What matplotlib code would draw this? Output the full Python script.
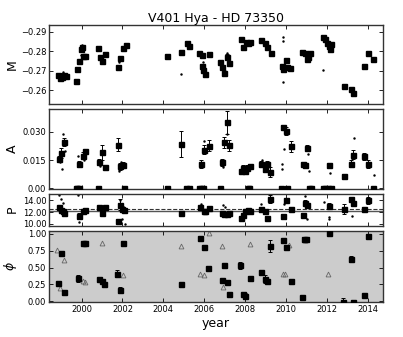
import matplotlib
matplotlib.use("Agg")
import matplotlib.pyplot as plt
import numpy as np

# Mean magnitude M (seasonal fits)
m_year = [1998.85, 1998.95, 1999.05, 1999.15, 1999.25, 1999.73, 1999.80, 1999.88, 1999.98, 2000.04,
          2000.09, 2000.17, 2000.82, 2000.90, 2001.02, 2001.15, 2001.80, 2001.88, 2002.04, 2002.16,
          2004.19, 2004.86, 2005.14, 2005.25, 2005.76, 2005.87, 2005.90, 2005.95, 2006.04, 2006.25,
          2006.77, 2006.88, 2006.98, 2007.10, 2007.21, 2007.80, 2007.91, 2008.03, 2008.12, 2008.24,
          2008.76, 2008.97, 2009.08, 2009.25, 2009.78, 2009.86, 2009.98, 2010.06, 2010.19, 2010.79,
          2010.92, 2011.00, 2011.08, 2011.17, 2011.79, 2011.90, 2012.01, 2012.11, 2012.19, 2012.15,
          2012.83, 2013.16, 2013.26, 2013.81, 2014.02, 2014.23]
m_val = [-0.2677, -0.2665, -0.2670, -0.2680, -0.2672, -0.2646, -0.2711, -0.2748, -0.2812, -0.2822,
         -0.2778, -0.2775, -0.2817, -0.2773, -0.2748, -0.2787, -0.2719, -0.2766, -0.2815, -0.2834,
         -0.2775, -0.2798, -0.2841, -0.2829, -0.2792, -0.2783, -0.2727, -0.2705, -0.2685, -0.2787,
         -0.2744, -0.2719, -0.2688, -0.2773, -0.2739, -0.2861, -0.2824, -0.2846, -0.2841, -0.2846,
         -0.2858, -0.2841, -0.2824, -0.2792, -0.2727, -0.2707, -0.2756, -0.2719, -0.2716, -0.2795,
         -0.2790, -0.2761, -0.2770, -0.2790, -0.2875, -0.2863, -0.2843, -0.2829, -0.2838, -0.2812,
         -0.2622, -0.2609, -0.2587, -0.2727, -0.2790, -0.2761]
m_err = [0.0004, 0.0004, 0.0006, 0.0004, 0.0004, 0.0005, 0.0004, 0.0004, 0.0005, 0.0004,
         0.0004, 0.0004, 0.0004, 0.0004, 0.0004, 0.0004, 0.0004, 0.0007, 0.0004, 0.0004,
         0.0008, 0.0005, 0.0004, 0.0004, 0.0004, 0.0004, 0.0004, 0.0004, 0.0004, 0.0004,
         0.0004, 0.0004, 0.0004, 0.0012, 0.0006, 0.0004, 0.0004, 0.0004, 0.0004, 0.0004,
         0.0004, 0.0004, 0.0004, 0.0004, 0.0004, 0.0004, 0.0004, 0.0004, 0.0004, 0.0004,
         0.0004, 0.0006, 0.0004, 0.0004, 0.0004, 0.0004, 0.0004, 0.0008, 0.0004, 0.0004,
         0.0004, 0.0004, 0.0005, 0.0004, 0.0004, 0.0004]
m_dot_year = [1998.9, 1999.0, 1999.1, 1999.2, 1999.75, 1999.95, 2000.0, 2001.0, 2001.82, 2004.86,
              2005.95, 2006.0, 2006.05, 2007.0, 2007.12, 2007.95, 2009.12, 2009.86, 2009.86, 2009.86,
              2011.02, 2011.8, 2012.2, 2013.27]
m_dot_val = [-0.2660, -0.2684, -0.2695, -0.2662, -0.2655, -0.2780, -0.2830, -0.2760, -0.2745, -0.2685,
             -0.2745, -0.2720, -0.2710, -0.2700, -0.2790, -0.2815, -0.2815, -0.2875, -0.2855, -0.2645,
             -0.2750, -0.2705, -0.2800, -0.2600]

# Amplitude A
a_year = [1998.90, 1999.00, 1999.16, 1999.88, 2000.09, 2000.17, 2000.87, 2001.00, 2001.15, 2001.80,
          2001.88, 2002.04, 2004.86, 2005.83, 2006.00, 2006.23, 2006.85, 2006.96, 2007.10, 2007.21,
          2007.78, 2007.91, 2007.99, 2008.10, 2008.24, 2008.76, 2008.97, 2009.08, 2009.21, 2009.83,
          2009.98, 2010.22, 2010.84, 2010.92, 2011.00, 2012.11, 2012.83, 2013.16, 2013.26, 2013.81,
          2014.02]
a_val = [0.0157, 0.0188, 0.0246, 0.0130, 0.0173, 0.0196, 0.0139, 0.0191, 0.0112, 0.0232,
         0.0116, 0.0125, 0.0237, 0.0128, 0.0205, 0.0227, 0.0137, 0.0244, 0.0351, 0.0228,
         0.0089, 0.0107, 0.0093, 0.0107, 0.0116, 0.0128, 0.0103, 0.0128, 0.0086, 0.0325,
         0.0304, 0.0223, 0.0130, 0.0121, 0.0214, 0.0121, 0.0062, 0.0130, 0.0178, 0.0169,
         0.0128]
a_err = [0.0015, 0.0025, 0.0020, 0.0015, 0.0020, 0.0015, 0.0015, 0.0040, 0.0010, 0.0035,
         0.0020, 0.0015, 0.0070, 0.0020, 0.0025, 0.0030, 0.0020, 0.0030, 0.0060, 0.0030,
         0.0010, 0.0015, 0.0015, 0.0015, 0.0015, 0.0015, 0.0015, 0.0015, 0.0025, 0.0015,
         0.0020, 0.0030, 0.0010, 0.0015, 0.0015, 0.0015, 0.0015, 0.0020, 0.0025, 0.0020,
         0.0020]
a_zero_year = [1999.72, 1999.80, 1999.90, 2000.80, 2002.10, 2004.19, 2005.12, 2005.25, 2005.76, 2005.86,
               2005.96, 2006.77, 2008.12, 2008.20, 2009.76, 2010.06, 2011.10, 2011.20, 2011.80, 2011.92,
               2012.05, 2012.20, 2014.25]
a_dot_year = [1998.95, 1999.05, 1999.1, 1999.18, 1999.85, 2000.12, 2000.9, 2001.85, 2001.95, 2006.0,
              2006.9, 2007.1, 2008.8, 2009.1, 2009.8, 2009.8, 2009.9, 2011.05, 2011.1, 2012.15,
              2013.3, 2014.3]
a_dot_val = [0.0140, 0.0100, 0.0290, 0.0200, 0.0170, 0.0150, 0.0120, 0.0090, 0.0140, 0.0250,
             0.0110, 0.0290, 0.0150, 0.0110, 0.0130, 0.0100, 0.0210, 0.0180, 0.0090, 0.0080,
             0.0270, 0.0070]

# Period P
p_year = [1998.90, 1999.00, 1999.08, 1999.16, 1999.88, 2000.05, 2000.17, 2000.87, 2000.99, 2001.15,
          2001.80, 2001.88, 2001.99, 2002.10, 2004.86, 2005.80, 2005.97, 2006.05, 2006.25, 2006.85,
          2006.96, 2007.10, 2007.21, 2007.78, 2007.91, 2008.00, 2008.12, 2008.24, 2008.76, 2008.97,
          2009.08, 2009.20, 2009.85, 2009.98, 2010.22, 2010.84, 2010.92, 2011.00, 2012.11, 2012.83,
          2013.16, 2013.26, 2013.81, 2014.02]
p_val = [12.8, 12.3, 12.1, 11.8, 11.4, 12.2, 12.4, 12.8, 11.8, 12.8,
         10.5, 13.3, 12.6, 12.4, 11.8, 12.8, 12.2, 12.1, 12.7, 11.8,
         11.6, 11.7, 11.9, 11.05, 11.5, 12.2, 12.4, 12.2, 12.5, 12.2,
         11.05, 14.2, 11.35, 14.0, 12.5, 11.5, 13.6, 13.2, 13.0, 12.5,
         14.2, 13.6, 12.5, 14.0]
p_err = [0.3, 0.3, 0.3, 0.3, 0.4, 0.3, 0.3, 0.3, 0.3, 0.3,
         0.3, 1.0, 0.4, 0.3, 0.3, 0.3, 0.3, 0.3, 0.3, 0.3,
         0.3, 0.3, 0.3, 0.3, 0.3, 0.3, 0.3, 0.3, 0.3, 0.3,
         0.3, 0.7, 0.3, 0.3, 0.3, 0.3, 0.4, 0.3, 0.5, 0.9,
         0.3, 0.3, 0.3, 0.6]
p_dot_year = [1998.9, 1999.0, 1999.1, 1999.85, 1999.9, 2001.9, 2002.0, 2002.12, 2005.85, 2006.9,
              2007.0, 2008.75, 2009.9, 2010.9, 2011.0, 2011.85, 2012.1, 2012.12, 2013.2]
p_dot_val = [15.0, 14.3, 13.6, 15.0, 10.3, 14.0, 10.8, 9.9, 13.4, 13.2,
             12.9, 13.4, 13.4, 14.8, 10.8, 13.8, 11.2, 10.8, 11.3]
p_mean = 12.1
p_dash = 12.55

# Phase phi
f_year = [1998.87, 1998.98, 1999.14, 1999.84, 2000.06, 2000.17, 2000.87, 2000.99, 2001.12, 2001.75,
          2001.88, 2002.01, 2004.85, 2005.80, 2005.99, 2006.20, 2006.85, 2006.96, 2007.10, 2007.21,
          2007.75, 2007.91, 2008.00, 2008.23, 2008.77, 2008.97, 2009.08, 2009.21, 2009.86, 2009.98,
          2010.22, 2010.76, 2010.88, 2010.97, 2012.10, 2012.80, 2013.18, 2013.26, 2013.81, 2014.00]
f_val = [0.263, 0.71, 0.13, 0.338, 0.86, 0.86, 0.327, 0.30, 0.25, 0.41,
         0.165, 0.86, 0.25, 0.94, 0.81, 0.49, 0.31, 0.535, 0.29, 0.10,
         0.535, 0.10, 0.075, 0.35, 0.43, 0.325, 0.295, 0.82, 0.91, 0.81,
         0.30, 0.055, 0.93, 0.93, 1.02, -0.01, 0.625, -0.01, 0.09, 0.97]
f_err = [0.02, 0.02, 0.02, 0.05, 0.02, 0.02, 0.02, 0.02, 0.02, 0.05,
         0.04, 0.02, 0.02, 0.02, 0.02, 0.02, 0.02, 0.02, 0.02, 0.02,
         0.05, 0.02, 0.05, 0.02, 0.02, 0.06, 0.02, 0.09, 0.02, 0.02,
         0.02, 0.02, 0.03, 0.02, 0.02, 0.06, 0.04, 0.02, 0.02, 0.03]
t_year = [1998.80, 1998.95, 1999.16, 2000.05, 2000.15, 2000.99, 2002.04, 2004.85, 2005.80, 2006.00,
          2006.22, 2006.85, 2006.93, 2008.23, 2009.86, 2009.95, 2010.16, 2010.90, 2012.07]
t_val = [0.76, 0.19, 0.61, 0.30, 0.29, 0.86, 0.39, 0.82, 0.41, 0.39,
         1.02, 0.82, 0.21, 0.85, 0.40, 0.40, 0.83, 0.91, 0.40]

plt.rcParams['xtick.direction'] = 'in'
plt.rcParams['ytick.direction'] = 'in'
plt.rcParams['xtick.top'] = True
plt.rcParams['ytick.right'] = True
plt.rcParams['xtick.labelsize'] = 6
plt.rcParams['ytick.labelsize'] = 6
plt.rcParams['axes.edgecolor'] = '#333333'

fig = plt.figure(figsize=(4.03, 3.37), dpi=100)
left, width = 0.1216, 0.828
ax1 = fig.add_axes([left, 0.6914, width, 0.2344])
ax2 = fig.add_axes([left, 0.4392, width, 0.2374])
ax3 = fig.add_axes([left, 0.3294, width, 0.0964])
ax4 = fig.add_axes([left, 0.1024, width, 0.2136])

sq = dict(fmt='s', color='black', ms=3.6, capsize=1.5, elinewidth=0.7, capthick=0.7, zorder=3)
dot = dict(ls='none', marker='.', ms=1.5, color='black', zorder=2)

# M
ax1.plot(m_dot_year, m_dot_val, **dot)
ax1.errorbar(m_year, m_val, yerr=m_err, **sq)
ax1.set_ylim(-0.253, -0.2935)
ax1.set_yticks([-0.29, -0.28, -0.27, -0.26])
ax1.set_yticklabels(['\u22120.29', '\u22120.28', '\u22120.27', '\u22120.26'])
ax1.set_ylabel('M', fontsize=9)
ax1.set_title('V401 Hya - HD 73350', fontsize=9, pad=2)

# A
ax2.plot(a_dot_year, a_dot_val, **dot)
ax2.errorbar(a_year, a_val, yerr=a_err, **sq)
ax2.plot(a_zero_year, np.zeros(len(a_zero_year)), 's', color='black', ms=3.6, zorder=3)
ax2.set_ylim(-0.0005, 0.0423)
ax2.set_yticks([0.0, 0.015, 0.030])
ax2.set_yticklabels(['0.00', '0.015', '0.030'])
ax2.set_ylabel('A', fontsize=9)

# P
ax3.plot(p_dot_year, p_dot_val, **dot)
ax3.axhline(p_mean, color='#555555', lw=1.0, zorder=1)
ax3.axhline(p_dash, color='#333333', lw=0.8, ls='--', zorder=1)
ax3.errorbar(p_year, p_val, yerr=p_err, **sq)
ax3.set_ylim(9.6, 15.2)
ax3.set_yticks([10, 12, 14])
ax3.set_yticklabels(['10.00', '12.00', '14.00'])
ax3.set_ylabel('P', fontsize=9)

# phi
ax4.set_facecolor('#cccccc')
ax4.plot(t_year, t_val, '^', mfc='none', mec='#666666', ms=3.5, mew=0.6, zorder=2)
ax4.errorbar(f_year, f_val, yerr=f_err, **sq)
ax4.set_ylim(-0.02, 1.05)
ax4.set_yticks([0, 0.25, 0.5, 0.75, 1.0])
ax4.set_yticklabels(['0.00', '0.25', '0.50', '0.75', '1.00'])
ax4.set_ylabel('$\\phi$', fontsize=9)
ax4.set_xlabel('year', fontsize=9, labelpad=2)

for ax in (ax1, ax2, ax3, ax4):
    ax.set_xlim(1998.41, 2014.72)
    ax.set_xticks(range(2000, 2015, 2))
    ax.tick_params(length=3, width=0.6, pad=2)
    ax.yaxis.set_label_coords(-0.09, 0.5)
    for s in ax.spines.values():
        s.set_linewidth(1.0)
    if ax is not ax4:
        ax.set_xticklabels([])

fig.savefig('out.png', dpi=100)
